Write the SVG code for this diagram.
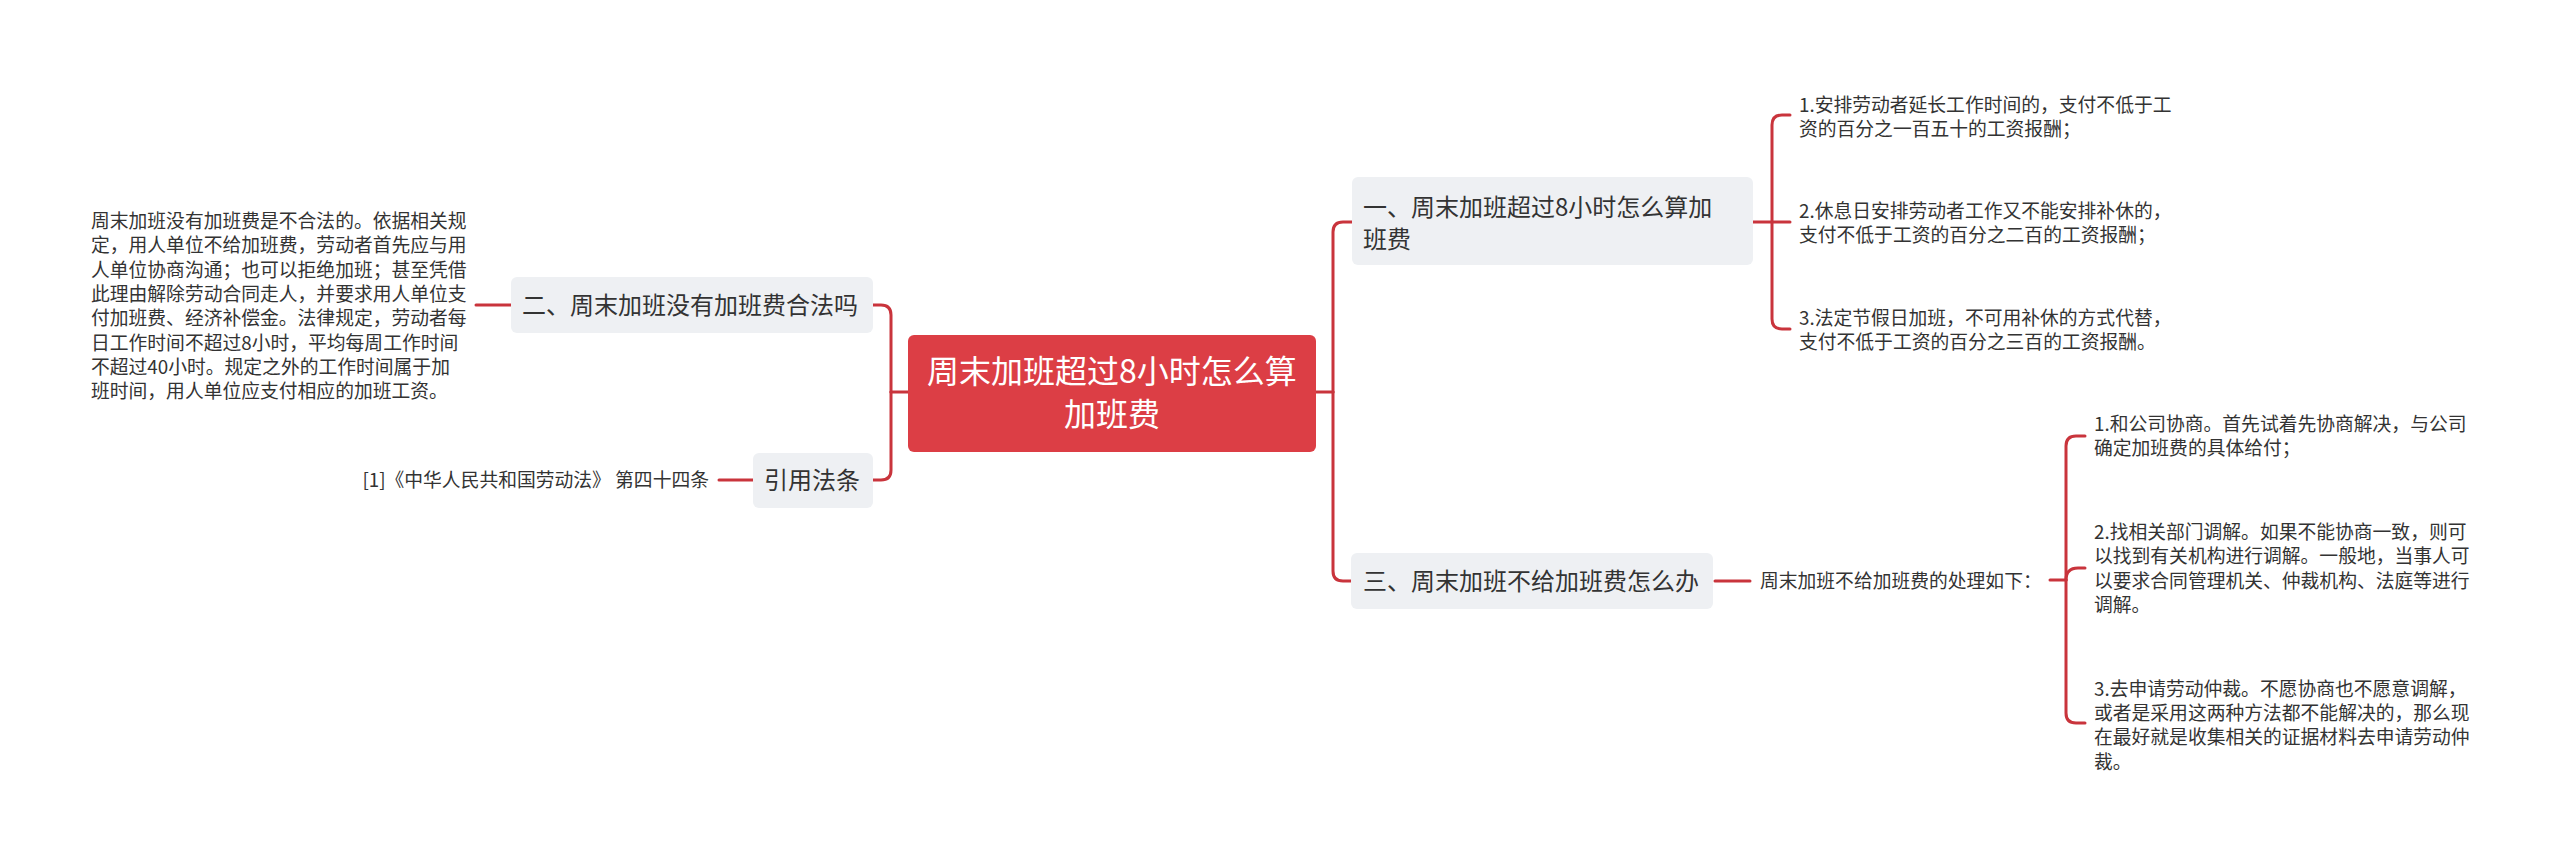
<svg xmlns="http://www.w3.org/2000/svg" width="2560" height="862" viewBox="0 0 2560 862">
<style>
text{font-family:"Noto Sans CJK SC","Noto Sans",sans-serif;fill:#333333}
.sub{fill:#eef0f3}
.t24{font-size:24px}
.t19{font-size:18.8px}
.root{font-size:32px;fill:#ffffff}
.ln{fill:none;stroke:#c9343c;stroke-width:3;stroke-linecap:round}
</style>
<rect width="2560" height="862" fill="#ffffff"/>
<g id="connectors">
<path class="ln" d="M908,392 H891"/>
<path class="ln" d="M891,392 V315 Q891,305 881,305 H873"/>
<path class="ln" d="M891,392 V470 Q891,480 881,480 H873"/>
<path class="ln" d="M511,305 H476"/>
<path class="ln" d="M753,480 H719"/>
<path class="ln" d="M1316,392 H1333"/>
<path class="ln" d="M1333,392 V232 Q1333,222 1343,222 H1352"/>
<path class="ln" d="M1333,392 V571 Q1333,581 1343,581 H1351"/>
<path class="ln" d="M1753,222 H1790"/>
<path class="ln" d="M1772,222 V125 Q1772,115 1782,115 H1790"/>
<path class="ln" d="M1772,222 V319 Q1772,329 1782,329 H1790"/>
<path class="ln" d="M1715,581 H1750"/>
<path class="ln" d="M2050,580 H2066"/>
<path class="ln" d="M2066,580 V446 Q2066,436 2076,436 H2085"/>
<path class="ln" d="M2066,580 Q2066,568 2078,568 H2085"/>
<path class="ln" d="M2066,580 V713 Q2066,723 2076,723 H2085"/>
</g>
<g id="root">
<rect x="908" y="335" width="408" height="117" rx="6" fill="#dc3e45"/>
<text class="root" x="1112" y="383" text-anchor="middle">周末加班超过8小时怎么算</text>
<text class="root" x="1112" y="426" text-anchor="middle">加班费</text>
</g>
<g id="node-legal">
<rect class="sub" x="511" y="277" width="362" height="56" rx="6"/>
<text class="t24" x="522" y="314">二、周末加班没有加班费合法吗</text>
</g>
<g id="node-legal-detail">
<text class="t19" x="91" y="228.1">周末加班没有加班费是不合法的。依据相关规</text>
<text class="t19" x="91" y="252.4">定，用人单位不给加班费，劳动者首先应与用</text>
<text class="t19" x="91" y="276.7">人单位协商沟通；也可以拒绝加班；甚至凭借</text>
<text class="t19" x="91" y="301">此理由解除劳动合同走人，并要求用人单位支</text>
<text class="t19" x="91" y="325.2">付加班费、经济补偿金。法律规定，劳动者每</text>
<text class="t19" x="91" y="349.5">日工作时间不超过8小时，平均每周工作时间</text>
<text class="t19" x="91" y="373.8">不超过40小时。规定之外的工作时间属于加</text>
<text class="t19" x="91" y="398.1">班时间，用人单位应支付相应的加班工资。</text>
</g>
<g id="node-cite">
<rect class="sub" x="753" y="453" width="120" height="55" rx="6"/>
<text class="t24" x="764" y="489">引用法条</text>
</g>
<g id="node-cite-detail">
<text class="t19" x="709" y="487" text-anchor="end">[1]《中华人民共和国劳动法》 第四十四条</text>
</g>
<g id="node-calc">
<rect class="sub" x="1352" y="177" width="401" height="88" rx="6"/>
<text class="t24" x="1363" y="216">一、周末加班超过8小时怎么算加</text>
<text class="t24" x="1363" y="247.5">班费</text>
</g>
<g id="node-calc-1">
<text class="t19" x="1799" y="111.5">1.安排劳动者延长工作时间的，支付不低于工</text>
<text class="t19" x="1799" y="135.8">资的百分之一百五十的工资报酬；</text>
</g>
<g id="node-calc-2">
<text class="t19" x="1799" y="218">2.休息日安排劳动者工作又不能安排补休的，</text>
<text class="t19" x="1799" y="242.3">支付不低于工资的百分之二百的工资报酬；</text>
</g>
<g id="node-calc-3">
<text class="t19" x="1799" y="325">3.法定节假日加班，不可用补休的方式代替，</text>
<text class="t19" x="1799" y="349.3">支付不低于工资的百分之三百的工资报酬。</text>
</g>
<g id="node-what">
<rect class="sub" x="1351" y="553" width="362" height="56" rx="6"/>
<text class="t24" x="1363" y="590">三、周末加班不给加班费怎么办</text>
</g>
<g id="node-what-summary">
<text class="t19" x="1760" y="588">周末加班不给加班费的处理如下：</text>
</g>
<g id="node-what-1">
<text class="t19" x="2094" y="431">1.和公司协商。首先试着先协商解决，与公司</text>
<text class="t19" x="2094" y="455.3">确定加班费的具体给付；</text>
</g>
<g id="node-what-2">
<text class="t19" x="2094" y="539">2.找相关部门调解。如果不能协商一致，则可</text>
<text class="t19" x="2094" y="563.3">以找到有关机构进行调解。一般地，当事人可</text>
<text class="t19" x="2094" y="587.6">以要求合同管理机关、仲裁机构、法庭等进行</text>
<text class="t19" x="2094" y="611.9">调解。</text>
</g>
<g id="node-what-3">
<text class="t19" x="2094" y="695.6">3.去申请劳动仲裁。不愿协商也不愿意调解，</text>
<text class="t19" x="2094" y="719.9">或者是采用这两种方法都不能解决的，那么现</text>
<text class="t19" x="2094" y="744.2">在最好就是收集相关的证据材料去申请劳动仲</text>
<text class="t19" x="2094" y="768.5">裁。</text>
</g>
</svg>
